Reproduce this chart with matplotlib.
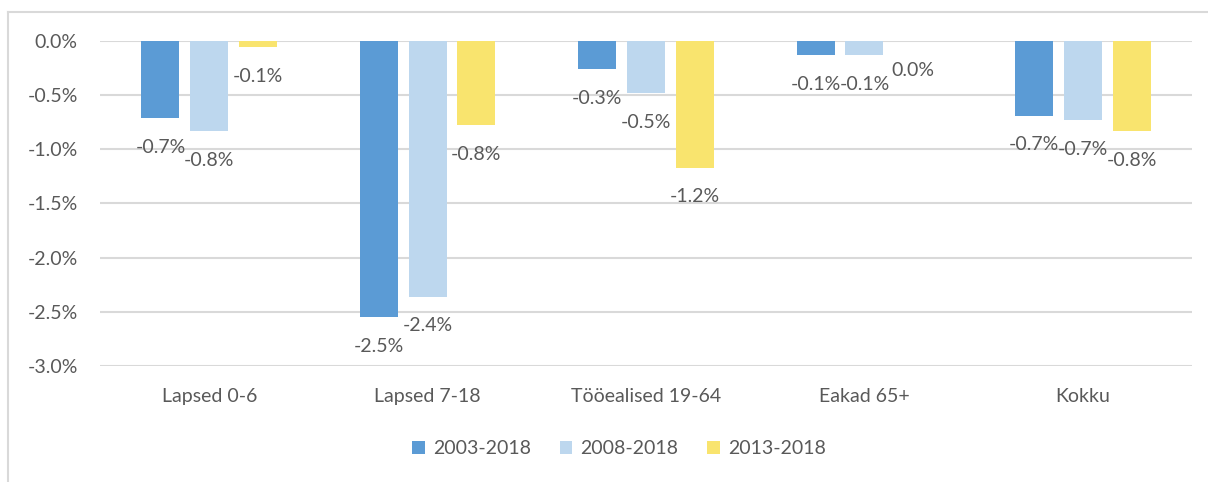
# Bar chart of average yearly population change by age group
import matplotlib.pyplot as plt
import numpy as np
from matplotlib.lines import Line2D

plt.rcParams['font.family'] = ['Lato', 'DejaVu Sans']

categories = ['Lapsed 0-6', 'Lapsed 7-18', 'Tööealised 19-64', 'Eakad 65+', 'Kokku']
series_names = ['2003-2018', '2008-2018', '2013-2018']
change_2003 = [-0.71, -2.55, -0.26, -0.13, -0.69]
change_2008 = [-0.83, -2.36, -0.48, -0.13, -0.73]
change_2013 = [-0.06, -0.78, -1.17, 0.0, -0.83]
yticks = [0.0, -0.5, -1.0, -1.5, -2.0, -2.5, -3.0]

COLORS = ['#5B9BD5', '#BDD7EE', '#F9E46E']
TEXT_COLOR = '#595959'
GRID_COLOR = '#D9D9D9'
FS = 14


def fmt_pct(v):
    s = f'{v:.1f}%'
    return '0.0%' if s == '-0.0%' else s


fig = plt.figure(figsize=(12.08, 4.82), dpi=100)
ax = fig.add_axes([100 / 1208, 1 - 366 / 482, 1092 / 1208, 325 / 482])

# outer chart frame (cropped at right and bottom)
fig.add_artist(Line2D([8 / 1208, 8 / 1208], [1 - 12 / 482, 0], color=GRID_COLOR,
                      lw=1.5, transform=fig.transFigure))
fig.add_artist(Line2D([8 / 1208, 1], [1 - 12 / 482, 1 - 12 / 482], color=GRID_COLOR,
                      lw=1.5, transform=fig.transFigure))

x = np.arange(len(categories))
width = 0.174
step = 0.223
all_series = [change_2003, change_2008, change_2013]
for i, (vals, name) in enumerate(zip(all_series, series_names)):
    pos = x + (i - 1) * step
    ax.bar(pos, vals, width=width, color=COLORS[i], label=name, zorder=3)
    for px, v in zip(pos, vals):
        ax.annotate(fmt_pct(v), (px, v), xytext=(0, -21), textcoords='offset points',
                    ha='center', va='center', fontsize=FS, color=TEXT_COLOR,
                    annotation_clip=False, zorder=4)

ax.set_xlim(-0.5, len(categories) - 0.5)
ax.set_ylim(-3.0, 0.0)
ax.set_yticks(yticks)
ax.set_yticklabels([f'{t:.1f}%' for t in yticks])
ax.set_xticks(x)
ax.set_xticklabels(categories)
ax.tick_params(axis='y', length=0, pad=16, labelsize=FS, labelcolor=TEXT_COLOR)
ax.tick_params(axis='x', length=0, pad=16, labelsize=FS, labelcolor=TEXT_COLOR)
ax.grid(axis='y', color=GRID_COLOR, lw=1.5, zorder=0)
ax.set_axisbelow(True)
for sp in ax.spines.values():
    sp.set_visible(False)

fig.legend(loc='center', bbox_to_anchor=(619 / 1208, 1 - 449 / 482), ncol=3,
           frameon=False, fontsize=FS, labelcolor=TEXT_COLOR, handlelength=0.65,
           handleheight=0.65, handletextpad=0.4, columnspacing=1.5)

fig.savefig('out.png', dpi=100)
